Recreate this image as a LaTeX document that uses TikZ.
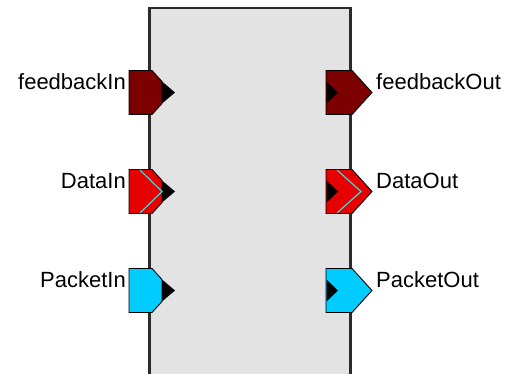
\documentclass[tikz,border=0pt]{standalone}
\usepackage{fontspec}
\setmainfont{Liberation Sans}
\definecolor{portdark}{HTML}{7C0000}
\definecolor{portred}{HTML}{E60000}
\definecolor{portcyan}{HTML}{00CCFF}
\definecolor{chevron}{HTML}{30E0E0}
\definecolor{blockfill}{HTML}{E3E3E3}
\definecolor{blockline}{HTML}{2A2A2A}
\tikzset{
  portline/.style={draw=black, line width=0.9pt, line join=miter},
  tipmark/.style={fill=black},
  chev/.style={draw=chevron, line width=1.2pt},
  portlabel/.style={inner sep=0pt, anchor=base, font=\fontsize{22}{26}\selectfont},
  % input port: chamfered box with a black tip on its right side
  pics/inport/.style 2 args={code={
    \filldraw[portline, fill=#1] (-20.5,-22) -- (2.5,-22) -- (12.5,-11) -- (12.5,11)
      -- (2.5,22) -- (-20.5,22) -- cycle;
    \fill[tipmark] (12.5,-11) -- (25.5,0) -- (12.5,11) -- cycle;
    \ifnum#2=1 \draw[chev] (-9.5,-21.5) -- (12.5,0) -- (-9.5,21.5); \fi
  }},
  % output port: arrow-shaped box with a black notch on its left side
  pics/outport/.style 2 args={code={
    \filldraw[portline, fill=#1] (-25,-22) -- (1,-22) -- (21,0) -- (1,22)
      -- (-25,22) -- cycle;
    \fill[tipmark] (-24.5,-11) -- (-13,0) -- (-24.5,11) -- cycle;
    \ifnum#2=1 \draw[chev] (-14,-21.5) -- (10,0) -- (-14,21.5); \fi
  }}
}
\begin{document}
\begin{tikzpicture}[x=1pt,y=-1pt]
  \useasboundingbox (0,0) rectangle (505,374);
  % component body, running past the lower edge
  \fill[blockfill] (149.5,8) rectangle (350.5,380);
  \draw[blockline, line width=2.2pt] (149.5,380) -- (149.5,8) -- (350.5,8) -- (350.5,380);
  \coordinate (blk) at (250,8);

  % input ports
  \pic at (149.5,92.5) {inport={portdark}{0}};
  \pic at (149.5,191.5) {inport={portred}{1}};
  \pic at (149.5,290.5) {inport={portcyan}{0}};
  % output ports
  \pic at (351,92.5) {outport={portdark}{0}};
  \pic at (351,191.5) {outport={portred}{1}};
  \pic at (351,290.5) {outport={portcyan}{0}};

  % port names
  \node[portlabel, anchor=base east] (fbin) at (126,89.5) {feedbackIn};
  \node[portlabel, anchor=base east] (din) at (126,188.5) {DataIn};
  \node[portlabel, anchor=base east] (pin) at (126,287.5) {PacketIn};
  \node[portlabel, anchor=base west] (fbout) at (376,89.5) {feedbackOut};
  \node[portlabel, anchor=base west] (dout) at (376,188.5) {DataOut};
  \node[portlabel, anchor=base west] (pout) at (376,287.5) {PacketOut};
\end{tikzpicture}
\end{document}
